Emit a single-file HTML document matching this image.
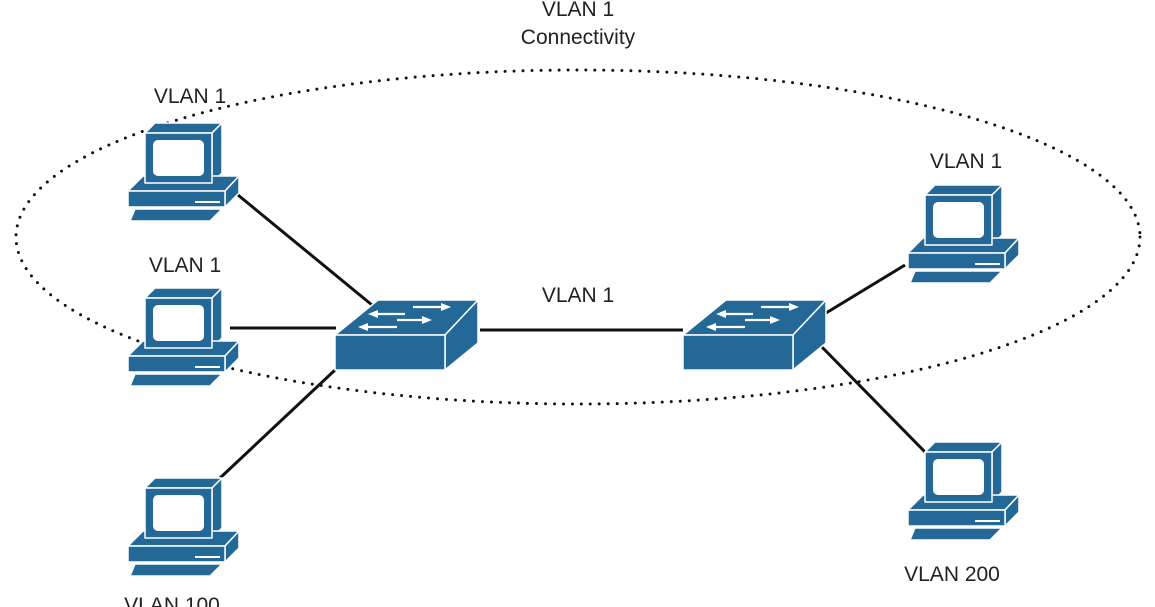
<!DOCTYPE html>
<html><head><meta charset="utf-8"><style>
html,body{margin:0;padding:0;background:#fff;}
svg{display:block}
text{font-family:"Liberation Sans",sans-serif;font-size:21px;fill:#222;text-anchor:middle}
</style></head><body>
<svg width="1155" height="607" viewBox="0 0 1155 607" xmlns="http://www.w3.org/2000/svg">
<defs>
<g id="pc" stroke="#fff" stroke-width="1.5" stroke-linejoin="round">
  <polygon points="0,0 10,-10 77,-10 67,0" fill="#236896"/>
  <polygon points="67,0 77,-10 77,40 67,50" fill="#236896"/>
  <polygon points="-17,58 -2,43 94,43 80,58" fill="#236896"/>
  <rect x="0" y="0" width="67" height="50" fill="#236896"/>
  <rect x="8" y="7" width="51" height="36" rx="5" fill="#fff" stroke="none"/>
  <polygon points="80,58 94,43 94,60 80,74" fill="#236896"/>
  <rect x="-17" y="58" width="97" height="16" fill="#236896"/>
  <line x1="50" y1="69" x2="75" y2="69" stroke="#fff" stroke-width="2"/>
  <polygon points="-10,76 77,76 65,88 -15,88" fill="#236896"/>
</g>
<g id="sw" stroke="#fff" stroke-width="1.5" stroke-linejoin="round">
  <polygon points="0,35 43,0 143,0 110,35" fill="#236896"/>
  <polygon points="110,35 143,0 143,43 110,70" fill="#236896"/>
  <rect x="0" y="35" width="110" height="35" fill="#236896"/>
  <g stroke="#fff" stroke-width="2.2" fill="#fff">
    <line x1="78" y1="7" x2="110" y2="7"/><polygon points="116,7 106,3 106,11" stroke="none"/>
    <line x1="40" y1="14" x2="70" y2="14"/><polygon points="33,14 43,10 43,18" stroke="none"/>
    <line x1="62" y1="20" x2="90" y2="20"/><polygon points="97,20 87,16 87,24" stroke="none"/>
    <line x1="30" y1="27" x2="62" y2="27"/><polygon points="23,27 33,23 33,31" stroke="none"/>
  </g>
</g>
</defs>
<ellipse cx="578" cy="237" rx="562" ry="167" fill="none" stroke="#111" stroke-width="3" stroke-dasharray="0 9" stroke-linecap="round"/>
<g stroke="#111" stroke-width="3">
  <line x1="238" y1="195" x2="372" y2="305"/>
  <line x1="230" y1="328" x2="336" y2="328"/>
  <line x1="220" y1="478" x2="335" y2="370"/>
  <line x1="480" y1="330" x2="683" y2="330"/>
  <line x1="826" y1="313" x2="905" y2="265"/>
  <line x1="818" y1="343" x2="925" y2="452"/>
</g>
<use href="#sw" x="335" y="300"/>
<use href="#sw" x="683" y="300"/>
<use href="#pc" x="145" y="133"/>
<use href="#pc" x="145" y="298"/>
<use href="#pc" x="145" y="488"/>
<use href="#pc" x="925" y="195"/>
<use href="#pc" x="925" y="452"/>
<text x="578" y="16">VLAN 1</text>
<text x="578" y="44">Connectivity</text>
<text x="190" y="103">VLAN 1</text>
<text x="185" y="272">VLAN 1</text>
<text x="172" y="612">VLAN 100</text>
<text x="578" y="302">VLAN 1</text>
<text x="966" y="168">VLAN 1</text>
<text x="952" y="581">VLAN 200</text>
</svg>
</body></html>
